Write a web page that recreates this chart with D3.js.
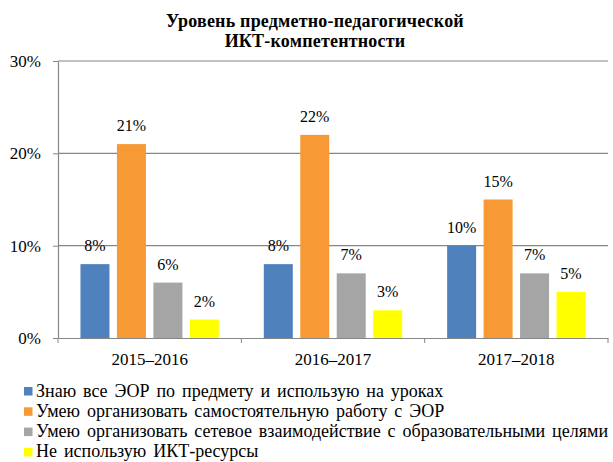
<!DOCTYPE html>
<html>
<head>
<meta charset="utf-8">
<script src="https://cdn.jsdelivr.net/npm/d3@7"></script>
<style>
  body { margin: 0; background: #fff; }
</style>
</head>
<body>
<div id="canvas"></div>
<script>
// DATA
const years = ["2015–2016", "2016–2017", "2017–2018"];
const seriesNames = [
  "Знаю все ЭОР по предмету и использую на уроках",
  "Умею организовать самостоятельную  работу с ЭОР",
  "Умею организовать сетевое взаимодействие с образовательными целями",
  "Не использую ИКТ-ресурсы"
];
const knowAll = [8, 8, 10];
const selfWork = [21, 22, 15];
const network = [6, 7, 7];
const noIct = [2, 3, 5];
const yTicks = [0, 10, 20, 30];
const seriesColors = ["#4F81BD", "#F79A35", "#A5A5A5", "#FFFF00"];

const seriesValues = [knowAll, selfWork, network, noIct];
const serif = "'Liberation Serif', 'Times New Roman', serif";

// DIMENSIONS
const width = 613;
const height = 462;
const margin = { top: 61, left: 58, right: 5, bottom: 124 };
const plot_width = width - margin.left - margin.right;
const plot_height = height - margin.top - margin.bottom;

const canvas = d3.select("#canvas")
  .append("svg")
  .attr("width", width)
  .attr("height", height)
  .style("font-family", serif);

// TITLE
const title = canvas.append("text")
  .attr("x", 315)
  .attr("text-anchor", "middle")
  .style("font-family", serif)
  .style("font-weight", "bold")
  .style("font-size", "18px")
  .style("letter-spacing", "0.2px");
title.append("tspan").attr("x", 315).attr("y", 27).text("Уровень  предметно-педагогической");
title.append("tspan").attr("x", 315).attr("y", 47).text("ИКТ-компетентности");

const plot = canvas.append("g")
  .attr("transform", `translate(${margin.left},${margin.top})`);

// SCALES
const scaleX = d3.scaleBand(years, [0, plot_width]);
const scaleInner = d3.scaleBand(d3.range(seriesNames.length), [0, scaleX.bandwidth()])
  .paddingInner(0.205)
  .paddingOuter(0.616);
const scaleY = d3.scaleLinear().domain([0, 30]).range([plot_height, 0]);

// GRID
plot.append("g")
  .selectAll("line")
  .data(yTicks.slice(1))
  .join("line")
  .attr("x1", 0)
  .attr("x2", plot_width)
  .attr("y1", d => scaleY(d))
  .attr("y2", d => scaleY(d))
  .attr("stroke", "#868686")
  .attr("stroke-width", 1.2);

// BARS
const groups = plot.append("g")
  .selectAll("g")
  .data(years)
  .join("g")
  .attr("transform", d => `translate(${scaleX(d)},0)`);

groups.selectAll("rect")
  .data((d, i) => seriesValues.map((s, k) => ({ k, v: s[i] })))
  .join("rect")
  .attr("x", d => scaleInner(d.k))
  .attr("y", d => scaleY(d.v))
  .attr("width", scaleInner.bandwidth())
  .attr("height", d => scaleY(0) - scaleY(d.v))
  .attr("fill", d => seriesColors[d.k]);

groups.selectAll("text")
  .data((d, i) => seriesValues.map((s, k) => ({ k, v: s[i] })))
  .join("text")
  .attr("x", d => scaleInner(d.k) + scaleInner.bandwidth() / 2)
  .attr("y", d => scaleY(d.v) - 13)
  .attr("text-anchor", "middle")
  .style("font-family", serif)
  .style("font-size", "16px")
  .text(d => d.v + "%");

// AXES
const xAx = d3.axisBottom(scaleX).tickSize(0).tickSizeOuter(0);
const xaxis = plot.append("g")
  .attr("transform", `translate(0,${plot_height})`)
  .call(xAx);
xaxis.select(".domain").attr("stroke", "#868686").attr("stroke-width", 1.2);
xaxis.selectAll(".tick text")
  .attr("y", 15)
  .attr("fill", "#000")
  .style("font-size", "17px")
  .style("font-family", serif);
// category separators
xaxis.selectAll(".sep")
  .data(years.map(d => scaleX(d)).concat([plot_width]))
  .join("line")
  .attr("class", "sep")
  .attr("x1", d => d).attr("x2", d => d)
  .attr("y1", 0).attr("y2", 5)
  .attr("stroke", "#868686");

const yAx = d3.axisLeft(scaleY).tickValues(yTicks).tickSize(5).tickSizeOuter(0)
  .tickFormat(d => d + "%");
const yaxis = plot.append("g").call(yAx);
yaxis.select(".domain").attr("stroke", "#868686").attr("stroke-width", 1.2);
yaxis.selectAll(".tick line").attr("stroke", "#868686");
yaxis.selectAll(".tick text")
  .attr("x", -17)
  .attr("fill", "#000")
  .style("font-size", "17px")
  .style("font-family", serif);

// LEGEND
const legend = canvas.append("g").attr("class", "legend");
legend.selectAll("rect")
  .data(seriesNames)
  .join("rect")
  .attr("x", 24)
  .attr("y", (d, i) => 387 + i * 20.3)
  .attr("width", 8.5)
  .attr("height", 8.5)
  .attr("fill", (d, i) => seriesColors[i]);

legend.selectAll("text")
  .data(seriesNames)
  .join("text")
  .attr("x", 36)
  .attr("y", (d, i) => 396.5 + i * 20.3)
  .style("font-family", serif)
  .style("font-size", "18px")
  .style("word-spacing", "2.4px")
  .text(d => d);
</script>
</body>
</html>
